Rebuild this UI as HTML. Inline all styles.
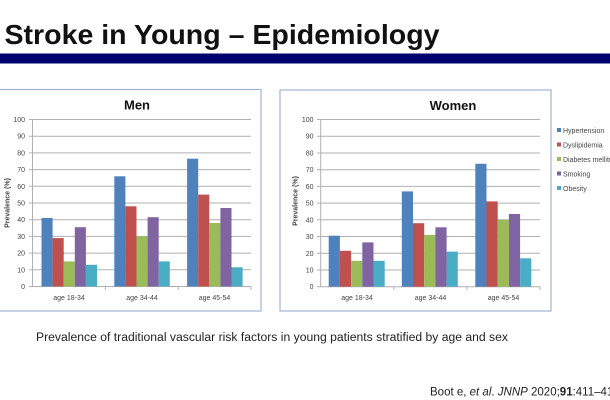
<!DOCTYPE html>
<html><head><meta charset="utf-8"><style>
html,body{margin:0;padding:0;background:#fff;}
svg{display:block;}
</style></head><body>
<svg width="610" height="400" viewBox="0 0 610 400" xmlns="http://www.w3.org/2000/svg" font-family="Liberation Sans, sans-serif">
<rect width="610" height="400" fill="#fff"/>
<text x="4.5" y="44" font-size="28" font-weight="bold" fill="#111" textLength="435" lengthAdjust="spacingAndGlyphs">Stroke in Young – Epidemiology</text>
<rect x="0" y="53.5" width="610" height="10" fill="#00006e"/>

<!-- Men chart -->
<rect x="-5" y="89.5" width="266" height="221.5" fill="#fff" stroke="#9aaccf" stroke-width="1.1"/>
<text x="137" y="109.5" font-size="13" font-weight="bold" text-anchor="middle" fill="#111">Men</text>
<g stroke="#b0b0b0" stroke-width="1">
<line x1="29" y1="269.8" x2="251" y2="269.8"/><line x1="29" y1="253.1" x2="251" y2="253.1"/><line x1="29" y1="236.4" x2="251" y2="236.4"/><line x1="29" y1="219.7" x2="251" y2="219.7"/><line x1="29" y1="203" x2="251" y2="203"/><line x1="29" y1="186.3" x2="251" y2="186.3"/><line x1="29" y1="169.6" x2="251" y2="169.6"/><line x1="29" y1="152.9" x2="251" y2="152.9"/><line x1="29" y1="136.2" x2="251" y2="136.2"/><line x1="29" y1="119.5" x2="251" y2="119.5"/>
<line x1="32.5" y1="119.5" x2="32.5" y2="286.5"/>
<line x1="29" y1="286.5" x2="251" y2="286.5"/>
<line x1="105.3" y1="286.5" x2="105.3" y2="290"/><line x1="178.1" y1="286.5" x2="178.1" y2="290"/><line x1="251" y1="286.5" x2="251" y2="290"/>
</g>
<g font-size="7" fill="#444" text-anchor="end">
<text x="25" y="289">0</text><text x="25" y="272.3">10</text><text x="25" y="255.6">20</text><text x="25" y="238.9">30</text><text x="25" y="222.2">40</text><text x="25" y="205.5">50</text><text x="25" y="188.8">60</text><text x="25" y="172.1">70</text><text x="25" y="155.4">80</text><text x="25" y="138.7">90</text><text x="25" y="122">100</text>
</g>
<text transform="translate(9.5,203) rotate(-90)" font-size="7" font-weight="bold" fill="#444" text-anchor="middle">Prevalence (%)</text>
<g font-size="7" fill="#444" text-anchor="middle">
<text x="69" y="300">age 18-34</text><text x="142" y="300">age 34-44</text><text x="214.5" y="300">age 45-54</text>
</g>
<g>
<rect x="41.5" y="218" width="11.1" height="68.5" fill="#4f81bd"/>
<rect x="52.6" y="238.1" width="11.1" height="48.4" fill="#c0504d"/>
<rect x="63.7" y="261.4" width="11.1" height="25.1" fill="#9bbb59"/>
<rect x="74.8" y="227.2" width="11.1" height="59.3" fill="#8064a2"/>
<rect x="85.9" y="264.8" width="11.1" height="21.7" fill="#4bacc6"/>
<rect x="114.3" y="176.3" width="11.1" height="110.2" fill="#4f81bd"/>
<rect x="125.4" y="206.3" width="11.1" height="80.2" fill="#c0504d"/>
<rect x="136.5" y="236.4" width="11.1" height="50.1" fill="#9bbb59"/>
<rect x="147.6" y="217.2" width="11.1" height="69.3" fill="#8064a2"/>
<rect x="158.7" y="261.4" width="11.1" height="25.1" fill="#4bacc6"/>
<rect x="187.1" y="158.7" width="11.1" height="127.8" fill="#4f81bd"/>
<rect x="198.2" y="194.6" width="11.1" height="91.9" fill="#c0504d"/>
<rect x="209.3" y="223" width="11.1" height="63.5" fill="#9bbb59"/>
<rect x="220.4" y="208" width="11.1" height="78.5" fill="#8064a2"/>
<rect x="231.5" y="267.3" width="11.1" height="19.2" fill="#4bacc6"/>
</g>

<!-- Women chart -->
<rect x="280" y="90" width="271" height="221" fill="#fff" stroke="#9aaccf" stroke-width="1.1"/>
<text x="453" y="110" font-size="13" font-weight="bold" text-anchor="middle" fill="#111">Women</text>
<g stroke="#b0b0b0" stroke-width="1">
<line x1="317" y1="270" x2="540" y2="270"/><line x1="317" y1="253.3" x2="540" y2="253.3"/><line x1="317" y1="236.5" x2="540" y2="236.5"/><line x1="317" y1="219.8" x2="540" y2="219.8"/><line x1="317" y1="203.1" x2="540" y2="203.1"/><line x1="317" y1="186.4" x2="540" y2="186.4"/><line x1="317" y1="169.7" x2="540" y2="169.7"/><line x1="317" y1="153" x2="540" y2="153"/><line x1="317" y1="136.2" x2="540" y2="136.2"/><line x1="317" y1="119.5" x2="540" y2="119.5"/>
<line x1="320.7" y1="119.5" x2="320.7" y2="286.7"/>
<line x1="317" y1="286.7" x2="540" y2="286.7"/>
<line x1="393.8" y1="286.7" x2="393.8" y2="290"/><line x1="466.9" y1="286.7" x2="466.9" y2="290"/><line x1="540" y1="286.7" x2="540" y2="290"/>
</g>
<g font-size="7" fill="#444" text-anchor="end">
<text x="313.5" y="289.2">0</text><text x="313.5" y="272.5">10</text><text x="313.5" y="255.8">20</text><text x="313.5" y="239">30</text><text x="313.5" y="222.3">40</text><text x="313.5" y="205.6">50</text><text x="313.5" y="188.9">60</text><text x="313.5" y="172.2">70</text><text x="313.5" y="155.5">80</text><text x="313.5" y="138.7">90</text><text x="313.5" y="122">100</text>
</g>
<text transform="translate(297.5,201) rotate(-90)" font-size="7" font-weight="bold" fill="#444" text-anchor="middle">Prevalence (%)</text>
<g font-size="7" fill="#444" text-anchor="middle">
<text x="357" y="300">age 18-34</text><text x="430.5" y="300">age 34-44</text><text x="503.5" y="300">age 45-54</text>
</g>
<g>
<rect x="328.7" y="235.7" width="11.2" height="51" fill="#4f81bd"/>
<rect x="339.9" y="250.8" width="11.2" height="35.9" fill="#c0504d"/>
<rect x="351.1" y="260.8" width="11.2" height="25.9" fill="#9bbb59"/>
<rect x="362.3" y="242.4" width="11.2" height="44.3" fill="#8064a2"/>
<rect x="373.5" y="260.8" width="11.2" height="25.9" fill="#4bacc6"/>
<rect x="401.8" y="191.4" width="11.2" height="95.3" fill="#4f81bd"/>
<rect x="413" y="223.2" width="11.2" height="63.5" fill="#c0504d"/>
<rect x="424.2" y="234.9" width="11.2" height="51.8" fill="#9bbb59"/>
<rect x="435.4" y="227.3" width="11.2" height="59.4" fill="#8064a2"/>
<rect x="446.6" y="251.6" width="11.2" height="35.1" fill="#4bacc6"/>
<rect x="475.3" y="163.8" width="11.2" height="122.9" fill="#4f81bd"/>
<rect x="486.5" y="201.4" width="11.2" height="85.3" fill="#c0504d"/>
<rect x="497.7" y="219.8" width="11.2" height="66.9" fill="#9bbb59"/>
<rect x="508.9" y="214" width="11.2" height="72.7" fill="#8064a2"/>
<rect x="520.1" y="258.3" width="11.2" height="28.4" fill="#4bacc6"/>
</g>

<!-- Legend -->
<g font-size="7" fill="#444">
<rect x="557" y="128" width="4" height="4" fill="#4f81bd"/><text x="563" y="133">Hypertension</text>
<rect x="557" y="142.5" width="4" height="4" fill="#c0504d"/><text x="563" y="147.5">Dyslipidemia</text>
<rect x="557" y="157" width="4" height="4" fill="#9bbb59"/><text x="563" y="162">Diabetes mellitus</text>
<rect x="557" y="171.5" width="4" height="4" fill="#8064a2"/><text x="563" y="176.5">Smoking</text>
<rect x="557" y="186" width="4" height="4" fill="#4bacc6"/><text x="563" y="191">Obesity</text>
</g>

<text x="36" y="341" font-size="11.5" fill="#222" textLength="472" lengthAdjust="spacingAndGlyphs">Prevalence of traditional vascular risk factors in young patients stratified by age and sex</text>
<text x="430" y="395.5" font-size="11.5" fill="#222">Boot e, <tspan font-style="italic">et al</tspan>. <tspan font-style="italic">JNNP</tspan> 2020;<tspan font-weight="bold">91</tspan>:411–418</text>
</svg>
</body></html>
